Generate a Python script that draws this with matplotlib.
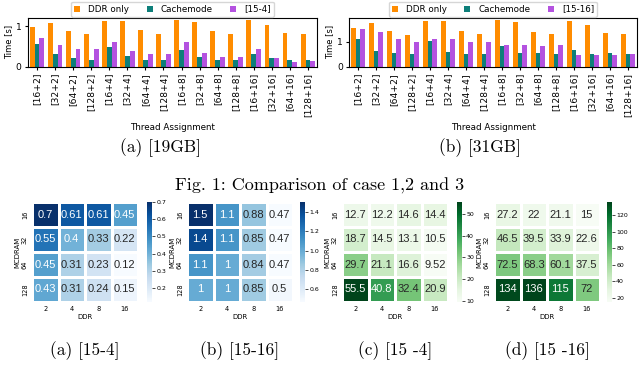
import numpy as np
import matplotlib
matplotlib.use("Agg")
import matplotlib.pyplot as plt
import seaborn as sns

# ---------------- data ----------------
groups = ["[16+2]", "[32+2]", "[64+2]", "[128+2]",
          "[16+4]", "[32+4]", "[64+4]", "[128+4]",
          "[16+8]", "[32+8]", "[64+8]", "[128+8]",
          "[16+16]", "[32+16]", "[64+16]", "[128+16]"]

ddr_only_19 = [0.975, 1.08, 0.89, 0.81, 1.14, 1.14, 0.91, 0.82,
               1.15, 1.11, 0.875, 0.81, 1.15, 1.04, 0.84, 0.82]
cache_19 = [0.575, 0.31, 0.21, 0.175, 0.49, 0.275, 0.175, 0.17,
            0.41, 0.25, 0.175, 0.16, 0.31, 0.21, 0.175, 0.16]
hyb_19 = [0.7, 0.55, 0.45, 0.43, 0.61, 0.4, 0.31, 0.31,
          0.61, 0.33, 0.23, 0.24, 0.45, 0.22, 0.12, 0.15]

ddr_only_31 = [1.56, 1.73, 1.41, 1.28, 1.83, 1.81, 1.44, 1.29,
               1.85, 1.77, 1.40, 1.29, 1.84, 1.65, 1.35, 1.29]
cache_31 = [1.12, 0.61, 0.53, 0.52, 1.01, 0.57, 0.52, 0.52,
            0.84, 0.53, 0.53, 0.52, 0.65, 0.51, 0.53, 0.52]
hyb_31 = [1.5, 1.4, 1.1, 1.0, 1.1, 1.1, 1.0, 1.0,
          0.88, 0.85, 0.84, 0.85, 0.47, 0.47, 0.47, 0.5]

mcdram_labels = ["16", "32", "64", "128"]
ddr_labels = ["2", "4", "8", "16"]

heat_a = [[0.7, 0.61, 0.61, 0.45],
          [0.55, 0.4, 0.33, 0.22],
          [0.45, 0.31, 0.23, 0.12],
          [0.43, 0.31, 0.24, 0.15]]
heat_b = [[1.5, 1.1, 0.88, 0.47],
          [1.4, 1.1, 0.85, 0.47],
          [1.1, 1.0, 0.84, 0.47],
          [1.0, 1.0, 0.85, 0.5]]
heat_c = [[12.7, 12.2, 14.6, 14.4],
          [18.7, 14.5, 13.1, 10.5],
          [29.7, 21.1, 16.6, 9.52],
          [55.5, 40.8, 32.4, 20.9]]
heat_d = [[27.2, 22, 21.1, 15],
          [46.5, 39.5, 33.9, 22.6],
          [72.5, 68.3, 60.1, 37.5],
          [134, 136, 115, 72]]

# ---------------- figure ----------------
W, H = 640, 372
fig = plt.figure(figsize=(W / 100, H / 100), dpi=100)
plt.rcParams['font.family'] = ['DejaVu Sans']

def fr(x0, y0, x1, y1):
    return [x0 / W, 1 - y1 / H, (x1 - x0) / W, (y1 - y0) / H]

serif = ['cmr10', 'DejaVu Serif']
c_ddr, c_cache, c_hyb = '#ff8c00', '#0e7f7a', '#b452e0'

def bars(rect, d, c, h, hlabel):
    ax = fig.add_axes(rect)
    x = np.arange(len(groups))
    w = 0.27
    ax.bar(x - w, d, w, color=c_ddr, label='DDR only')
    ax.bar(x, c, w, color=c_cache, label='Cachemode')
    ax.bar(x + w, h, w, color=c_hyb, label=hlabel)
    ax.set_xlim(-0.5, len(groups) - 0.5)
    ax.set_xticks(x)
    ax.set_xticklabels(groups, rotation=90, fontsize=6.6)
    ax.set_yticks([0, 1])
    ax.tick_params(axis='y', labelsize=6.6, length=2.5, pad=2)
    ax.tick_params(axis='x', length=2.5, pad=2)
    ax.set_ylabel('Time [s]', fontsize=6.0, labelpad=2)
    ax.set_xlabel('Thread Assignment', fontsize=6.3, labelpad=4)
    for s in ax.spines.values():
        s.set_linewidth(0.8)
    ax.legend(ncol=3, loc='lower center', bbox_to_anchor=(0.5, 1.0),
              fontsize=6.3, handlelength=0.7, handleheight=0.7,
              handletextpad=0.9, columnspacing=2.0, borderaxespad=0.15,
              borderpad=0.35, frameon=True, fancybox=True)
    return ax

bars(fr(28, 18, 317, 66.7), ddr_only_19, cache_19, hyb_19, '[15-4]')
bars(fr(349, 18, 637, 66.7), ddr_only_31, cache_31, hyb_31, '[15-16]')

fig.text(160 / W, 1 - 148 / H, '(a) [19GB]', ha='center', va='center',
         fontsize=12.5, family=serif)
fig.text(480 / W, 1 - 148 / H, '(b) [31GB]', ha='center', va='center',
         fontsize=12.5, family=serif)
fig.text(320 / W, 1 - 186 / H, 'Fig. 1: Comparison of case 1,2 and 3',
         ha='center', va='center', fontsize=13, family=serif)

def heat(x0, cbx, data, cmap, caption):
    ax = fig.add_axes(fr(x0, 202, x0 + 106, 302))
    cax = fig.add_axes(fr(cbx, 202, cbx + 5, 302))
    sns.heatmap(np.array(data), ax=ax, cbar_ax=cax, cmap=cmap, annot=True,
                fmt='.3g', linewidths=1, linecolor='white',
                annot_kws={'fontsize': 8.0, 'fontfamily': 'Liberation Sans'},
                xticklabels=ddr_labels, yticklabels=mcdram_labels)
    ax.tick_params(length=0, labelsize=4.8, pad=3)
    for t in ax.get_yticklabels():
        t.set_rotation(90)
        t.set_va('center')
    ax.set_xlabel('DDR', fontsize=5, labelpad=1)
    ax.set_ylabel('MCDRAM', fontsize=5, labelpad=1)
    cax.tick_params(labelsize=4.5, length=2, width=0.5, pad=1)
    fig.text((x0 + 53) / W, 1 - 351 / H, caption, ha='center', va='center',
             fontsize=12.5, family=serif)

heat(32, 147, heat_a, 'Blues', '(a) [15-4]')
heat(187, 300, heat_b, 'Blues', '(b) [15-16]')
heat(342, 457, heat_c, 'Greens', '(c) [15 -4]')
heat(494, 607, heat_d, 'Greens', '(d) [15 -16]')

fig.savefig('out.png', dpi=100)
